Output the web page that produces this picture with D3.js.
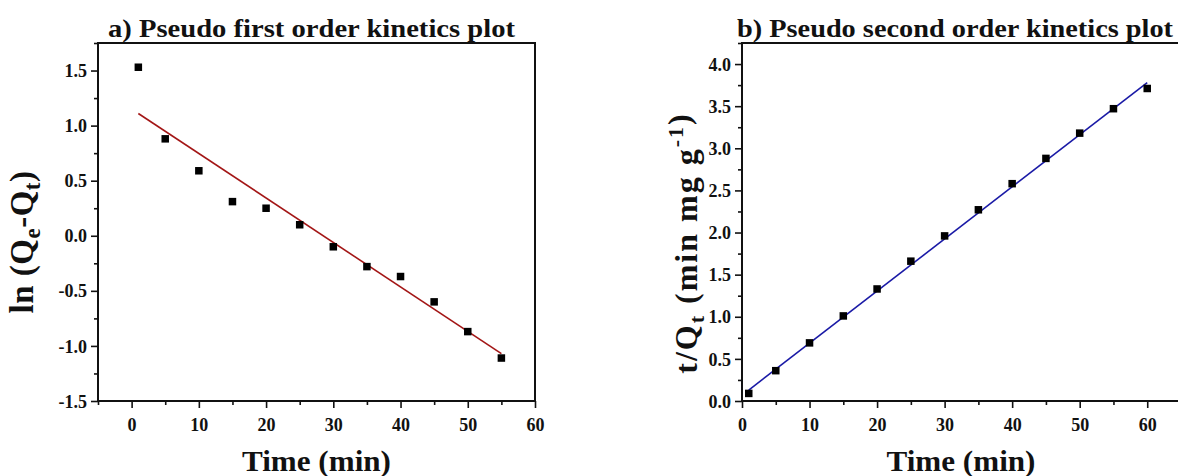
<!DOCTYPE html>
<html>
<head>
<meta charset="utf-8">
<script src="https://cdn.jsdelivr.net/npm/d3@7"></script>
<style>
  body { margin: 0; background: #fff; }
  svg text { font-family: "Liberation Serif", "Times New Roman", serif; font-weight: bold; fill: #111; }
</style>
</head>
<body>
<svg id="chart" width="1178" height="476"></svg>
<script>
// panel a: pseudo first order
const timeA = [1, 5, 10, 15, 20, 25, 30, 35, 40, 45, 50, 55];
const lnQ = [1.53, 0.88, 0.59, 0.31, 0.25, 0.10, -0.10, -0.28, -0.37, -0.60, -0.87, -1.11];
const fitA = [[1, 1.11], [55, -1.07]];

// panel b: pseudo second order
const timeB = [1, 5, 10, 15, 20, 25, 30, 35, 40, 45, 50, 55, 60];
const tQ = [0.09, 0.36, 0.69, 1.01, 1.33, 1.66, 1.96, 2.27, 2.58, 2.88, 3.18, 3.47, 3.71];
const fitB = [[1, 0.13], [60, 3.78]];

const xTicksA = d3.range(0, 61, 10), xMinorA = d3.range(-5, 60, 10);
const yTicksA = [-1.5, -1.0, -0.5, 0.0, 0.5, 1.0, 1.5], yMinorA = [-1.25, -0.75, -0.25, 0.25, 0.75, 1.25, 1.75];
const xTicksB = d3.range(0, 61, 10), xMinorB = d3.range(5, 66, 10);
const yTicksB = d3.range(0, 4.01, 0.5), yMinorB = d3.range(0.25, 4.3, 0.5);

const svg = d3.select("#chart");
const plotTop = 43, plotBottom = 401;

function panel(opt) {
    const x = d3.scaleLinear().domain(opt.xDomain).range(opt.xRange);
    const y = d3.scaleLinear().domain(opt.yDomain).range([plotBottom, plotTop]);
    const g = svg.append("g");
    const fmt = d => d.toFixed(1);

    // minor ticks first, then major ones
    g.append("g").attr("transform", `translate(0,${plotBottom})`)
        .call(d3.axisBottom(x).tickValues(opt.xMinor).tickSize(4).tickFormat(""));
    g.append("g").attr("transform", `translate(${opt.xRange[0]},0)`)
        .call(d3.axisLeft(y).tickValues(opt.yMinor).tickSize(4).tickFormat(""));
    const xa = g.append("g").attr("transform", `translate(0,${plotBottom})`)
        .call(d3.axisBottom(x).tickValues(opt.xTicks).tickSize(7).tickPadding(6).tickFormat(d => d));
    const ya = g.append("g").attr("transform", `translate(${opt.xRange[0]},0)`)
        .call(d3.axisLeft(y).tickValues(opt.yTicks).tickSize(7).tickPadding(4).tickFormat(fmt));
    g.selectAll(".domain").remove();
    g.selectAll(".tick line").attr("stroke", "#111").attr("stroke-width", 1.6);
    g.selectAll(".tick text").attr("font-size", 18).attr("fill", "#111");
    xa.selectAll(".tick text").attr("dy", "0.95em");
    ya.selectAll(".tick text").attr("dy", "0.34em");

    // frame
    const x0 = opt.xRange[0], x1 = opt.xRange[1];
    g.append("path")
        .attr("d", `M${x0},${plotTop}V${plotBottom}H${x1}V${plotTop}Z`)
        .attr("fill", "none").attr("stroke", "#111").attr("stroke-width", 2);

    // fit line
    g.append("path")
        .datum(opt.fit)
        .attr("d", d3.line().x(d => x(d[0])).y(d => y(d[1])))
        .attr("fill", "none").attr("stroke", opt.color).attr("stroke-width", 1.6);

    // points
    const s = 7.5;
    g.selectAll("rect.pt")
        .data(opt.xs.map((v, i) => [v, opt.ys[i]]))
        .join("rect")
        .attr("class", "pt")
        .attr("x", d => x(d[0]) - s / 2)
        .attr("y", d => y(d[1]) - s / 2)
        .attr("width", s).attr("height", s)
        .attr("fill", "#000");

    // title
    g.append("text")
        .attr("x", opt.titleX).attr("y", 37)
        .attr("font-size", 25)
        .attr("textLength", opt.titleW).attr("lengthAdjust", "spacingAndGlyphs")
        .text(opt.title);

    // x label
    g.append("text")
        .attr("x", (x0 + Math.min(x1, 1180)) / 2).attr("y", 471)
        .attr("text-anchor", "middle")
        .attr("font-size", 30)
        .attr("textLength", 149).attr("lengthAdjust", "spacingAndGlyphs")
        .text("Time (min)");
    return g;
}

panel({
    xDomain: [-5, 60], xRange: [98, 535], yDomain: [-1.5, 1.75],
    xTicks: xTicksA, xMinor: xMinorA, yTicks: yTicksA, yMinor: yMinorA,
    xs: timeA, ys: lnQ, fit: fitA, color: "#a31616",
    title: "a) Pseudo first order kinetics plot", titleX: 108, titleW: 407
});

panel({
    xDomain: [0, 65], xRange: [742, 1181], yDomain: [0, 4.25],
    xTicks: xTicksB, xMinor: xMinorB, yTicks: yTicksB, yMinor: yMinorB,
    xs: timeB, ys: tQ, fit: fitB, color: "#1a1aa6",
    title: "b) Pseudo second order kinetics plot", titleX: 737, titleW: 436
});

// y labels
const ylA = svg.append("text")
    .attr("transform", "translate(33,242) rotate(-90)")
    .attr("text-anchor", "middle")
    .attr("font-size", 33)
    .attr("letter-spacing", 0.5);
ylA.append("tspan").text("ln (Q");
ylA.append("tspan").attr("font-size", 23).attr("dy", 7).text("e");
ylA.append("tspan").attr("dy", -7).text("-Q");
ylA.append("tspan").attr("font-size", 23).attr("dy", 7).text("t");
ylA.append("tspan").attr("dy", -7).text(")");

const ylB = svg.append("text")
    .attr("transform", "translate(697,243) rotate(-90)")
    .attr("text-anchor", "middle")
    .attr("font-size", 32)
    .attr("letter-spacing", 2);
ylB.append("tspan").text("t/Q");
ylB.append("tspan").attr("font-size", 22).attr("dy", 7).text("t");
ylB.append("tspan").attr("dy", -7).text(" (min mg g");
ylB.append("tspan").attr("font-size", 22).attr("dy", -14).text("-1");
ylB.append("tspan").attr("dy", 7).text(")");
</script>
</body>
</html>
